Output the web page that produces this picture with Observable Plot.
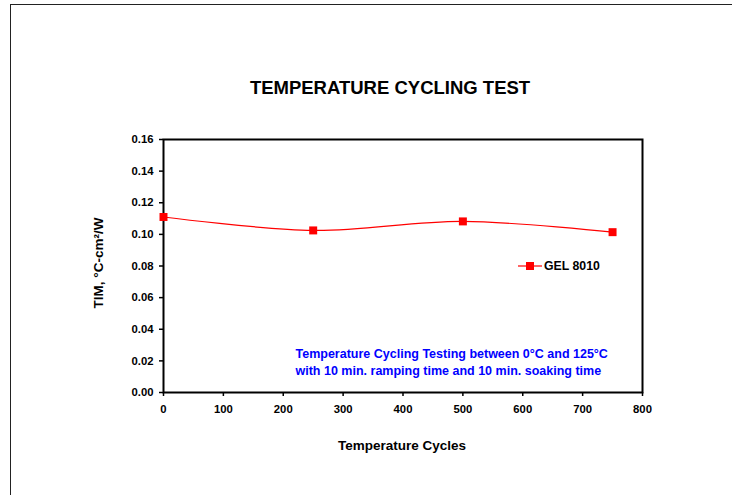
<!DOCTYPE html>
<html>
<head>
<meta charset="utf-8">
<script src="https://cdn.jsdelivr.net/npm/d3@7"></script>
<script src="https://cdn.jsdelivr.net/npm/@observablehq/plot@0.6"></script>
<style>
  html, body { margin: 0; padding: 0; background: #fff; overflow: hidden; }
  #wrap { position: relative; width: 732px; height: 495px; font-family: "Liberation Sans", Arial, sans-serif; }
  #border { position: absolute; left: 10px; top: 4px; width: 900px; height: 700px; border-left: 1px solid #222; border-top: 1px solid #222; }
  #chart { position: absolute; left: 0; top: 0; }
  #legend { position: absolute; left: 518px; top: 258px; display: flex; align-items: center; font-weight: bold; font-size: 12.3px; color: #000; }
</style>
</head>
<body>
<div id="wrap">
  <div id="border"></div>
  <div id="chart"></div>
  <div id="legend"><svg width="26" height="16"><line x1="0" x2="24" y1="8" y2="8" stroke="red" stroke-width="1.2"/><rect x="8" y="4" width="8" height="8" fill="red"/></svg><span id="legendLabel"></span></div>
</div>
<script>
const cycles = [0, 250, 500, 750];
const tim = [0.111, 0.1025, 0.1082, 0.1014];
const seriesName = "GEL 8010";
const yTicks = [0, 0.02, 0.04, 0.06, 0.08, 0.10, 0.12, 0.14, 0.16];
const xTicks = [0, 100, 200, 300, 400, 500, 600, 700, 800];
const title = "TEMPERATURE CYCLING TEST";
const xLabel = "Temperature Cycles";
const yLabel = "TIM, °C-cm²/W";
const note = "Temperature Cycling Testing between 0°C and 125°C\nwith 10 min. ramping time and 10 min. soaking time";

const data = cycles.map((c, i) => ({cycle: c, tim: tim[i]}));
document.getElementById("legendLabel").textContent = seriesName;

const chart = Plot.plot({
  width: 732,
  height: 495,
  marginLeft: 163,
  marginRight: 90,
  marginTop: 139,
  marginBottom: 103,
  style: {fontFamily: "Liberation Sans, Arial, sans-serif", background: "transparent"},
  x: {domain: [0, 800], ticks: xTicks, label: null},
  y: {domain: [0, 0.16], ticks: yTicks, label: null},
  marks: [
    Plot.axisY({ticks: yTicks, tickFormat: d3.format(".2f"), tickSize: 4, tickPadding: 6, fontSize: 11.3, fontWeight: "bold", stroke: "#000", strokeWidth: 1.5, label: null}),
    Plot.axisX({ticks: xTicks, tickFormat: d3.format("d"), tickSize: 4, tickPadding: 8, fontSize: 11.3, fontWeight: "bold", stroke: "#000", strokeWidth: 1.5, label: null}),
    Plot.frame({stroke: "#000", strokeWidth: 2}),
    Plot.line(data, {x: "cycle", y: "tim", curve: "catmull-rom", stroke: "#ff0000", strokeWidth: 1.2}),
    Plot.dot(data, {x: "cycle", y: "tim", symbol: "square", r: 4.5, fill: "#ff0000", stroke: "none"}),
    Plot.text([title], {frameAnchor: "top", textAnchor: "middle", lineAnchor: "middle", dx: -13, dy: -51, fontSize: 18.5, fontWeight: "bold", fill: "#000"}),
    Plot.text([xLabel], {frameAnchor: "bottom", textAnchor: "middle", lineAnchor: "middle", dx: -1, dy: 53, fontSize: 13.5, fontWeight: "bold", fill: "#000"}),
    Plot.text([yLabel], {frameAnchor: "left", textAnchor: "middle", lineAnchor: "middle", dx: -65, dy: -3, rotate: -90, fontSize: 13.5, fontWeight: "bold", fill: "#000"}),
    Plot.text([note], {frameAnchor: "bottom-left", textAnchor: "start", lineAnchor: "middle", dx: 132, dy: -31.5, lineHeight: 1.4, fontSize: 12.5, fontWeight: "bold", fill: "#0000ff"})
  ]
});
document.getElementById("chart").appendChild(chart);
</script>
</body>
</html>
